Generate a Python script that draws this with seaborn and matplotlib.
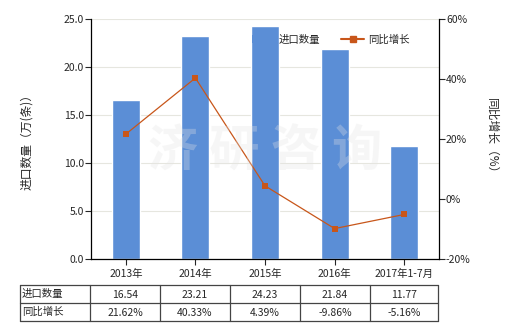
import matplotlib
matplotlib.use("Agg")
import matplotlib.pyplot as plt
import seaborn as sns
import pandas as pd
from matplotlib.lines import Line2D
from matplotlib.patches import Patch

categories = ["2013年", "2014年", "2015年", "2016年", "2017年1-7月"]
import_qty = [16.54, 23.21, 24.23, 21.84, 11.77]
yoy_growth = [21.62, 40.33, 4.39, -9.86, -5.16]
qty_labels = ["16.54", "23.21", "24.23", "21.84", "11.77"]
growth_labels = ["21.62%", "40.33%", "4.39%", "-9.86%", "-5.16%"]
row_names = ["进口数量", "同比增长"]
left_ticks = [0, 5, 10, 15, 20, 25]
right_ticks = [-20, 0, 20, 40, 60]

sns.set_style("white")
plt.rcParams['font.family'] = ['Noto Sans CJK SC', 'DejaVu Sans']

W, H = 520, 330
fig = plt.figure(figsize=(5.2, 3.3), dpi=100)
ax = fig.add_axes([91 / W, 1 - 259 / H, (439 - 91) / W, (259 - 19) / H])

df = pd.DataFrame({"cat": categories, "qty": import_qty, "g": yoy_growth})
bar_color = "#5B8ED6"
line_color = "#C8561A"

sns.barplot(data=df, x="cat", y="qty", ax=ax, color=bar_color, width=0.4, saturation=1)
ax.set_ylim(0, 25)
ax.set_yticks(left_ticks)
ax.set_yticklabels([f"{v:.1f}" for v in left_ticks], fontsize=7.5)
ax.set_xlim(-0.5, 4.5)
ax.set_xticks(range(5))
ax.set_xticklabels(categories, fontsize=7.5)
ax.set_xlabel("")
ax.set_ylabel("进口数量（万(条)）", fontsize=8.5, labelpad=22)
ax.yaxis.grid(True, color="#E6E6DF", linewidth=0.8)
ax.set_axisbelow(True)
for s in ["top", "right"]:
    ax.spines[s].set_visible(False)
ax.spines["left"].set_color("black")
ax.spines["bottom"].set_color("black")
ax.spines["left"].set_linewidth(0.9)
ax.spines["bottom"].set_linewidth(0.9)
ax.tick_params(axis="y", length=4, width=0.8, pad=1, left=True)
ax.tick_params(axis="x", length=4, width=0.8, pad=3, bottom=True)

# faint watermark
fig.text(265 / W, 1 - 152 / H, "济 研 咨 询", fontsize=36, fontweight="bold",
         color="#E4E4E4", alpha=0.3, ha="center", va="center", zorder=0.5)

ax2 = ax.twinx()
sns.lineplot(x=list(range(5)), y=yoy_growth, ax=ax2, color=line_color, marker="s",
             markersize=4, linewidth=0.9, markeredgewidth=0)
ax2.set_ylim(-20, 60)
ax2.set_yticks(right_ticks)
ax2.set_yticklabels([f"{v}%" for v in right_ticks], fontsize=7.5)
ax2.set_ylabel("同比增长（%）", fontsize=8.5, rotation=270, labelpad=20)
for s in ["top", "left", "bottom"]:
    ax2.spines[s].set_visible(False)
ax2.spines["right"].set_color("black")
ax2.spines["right"].set_linewidth(0.9)
ax2.tick_params(axis="y", length=4, width=0.8, pad=1, right=True)

handles = [Patch(facecolor=bar_color, edgecolor="none"),
           Line2D([0], [0], color=line_color, marker="s", markersize=4, linewidth=1.5)]
ax2.legend(handles, ["进口数量", "同比增长"], loc="upper left", bbox_to_anchor=(0.435, 0.975),
           ncol=2, frameon=False, fontsize=7.5, handlelength=2.2, columnspacing=2.0,
           handletextpad=0.4)

# data table
xs = [20, 90, 160, 230, 300, 370, 438]
ys = [285, 303, 321]
tc = "#444444"
for x in xs:
    fig.add_artist(Line2D([x / W, x / W], [1 - ys[0] / H, 1 - ys[-1] / H], color=tc, lw=0.9,
                          transform=fig.transFigure))
for y in ys:
    fig.add_artist(Line2D([xs[0] / W, xs[-1] / W], [1 - y / H, 1 - y / H], color=tc, lw=0.9,
                          transform=fig.transFigure))
rows = [qty_labels, growth_labels]
for r in range(2):
    yc = 1 - (ys[r] + ys[r + 1]) / 2 / H
    fig.text((xs[0] + 2) / W, yc, row_names[r], fontsize=7.5, ha="left", va="center")
    for c in range(5):
        xc = (xs[c + 1] + xs[c + 2]) / 2 / W
        fig.text(xc, yc - 0.004, rows[r][c], fontsize=7.5, ha="center", va="center")

fig.savefig("out.png", dpi=100)
